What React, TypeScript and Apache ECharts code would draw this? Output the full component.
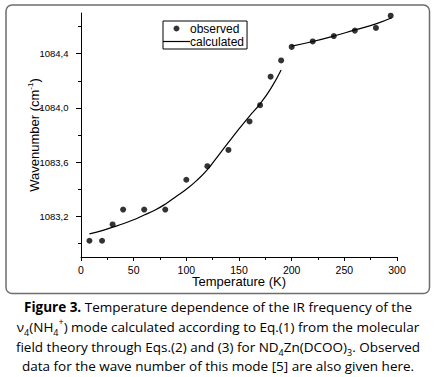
import { useEffect, useRef } from 'react';
import * as echarts from 'echarts';

const observedT = [8, 20, 30, 40, 60, 80, 100, 120, 140, 160, 170, 180, 190, 200, 220, 240, 260, 280, 294];
const observedV = [1083.02, 1083.02, 1083.14, 1083.25, 1083.25, 1083.25, 1083.47, 1083.57, 1083.69, 1083.9, 1084.02, 1084.23, 1084.35, 1084.45, 1084.49, 1084.53, 1084.57, 1084.59, 1084.68];

const calcLowT = [8, 20, 30, 40, 50, 60, 70, 80, 90, 100, 110, 120, 130, 140, 150, 160, 170, 180, 190];
const calcLowV = [1083.07, 1083.095, 1083.12, 1083.145, 1083.175, 1083.21, 1083.245, 1083.29, 1083.345, 1083.4, 1083.465, 1083.545, 1083.645, 1083.745, 1083.845, 1083.94, 1084.03, 1084.14, 1084.28];
const calcHighT = [200, 220, 240, 260, 280, 295];
const calcHighV = [1084.455, 1084.49, 1084.53, 1084.575, 1084.62, 1084.665];

const yMajorTicks = [1083.2, 1083.6, 1084.0, 1084.4];
const yMinorTicks = [1083.0, 1083.4, 1083.8, 1084.2, 1084.6];

const captionLines = [
  '{b|Figure 3.} Temperature dependence of the IR frequency of the',
  'ν{sub|4}(NH{sub|4}{sup|+}) mode calculated according to Eq.(1) from the molecular',
  'field theory through Eqs.(2) and (3) for ND{sub|4}Zn(DCOO){sub|3}. Observed',
  'data for the wave number of this mode [5] are also given here.',
];

const NARROW = '"Liberation Sans Narrow", "Arial Narrow", "Liberation Sans", Arial, sans-serif';
const CAPTION_FONT = '"Open Sans", "Noto Sans", sans-serif';

export default function App() {
  const ref = useRef<HTMLDivElement>(null);
  useEffect(() => {
    const chart = echarts.init(ref.current!, null, { renderer: 'svg' });
    const fmt = (v: number) => v.toFixed(1).replace('.', ',');
    const captionFontSize = 13.5;
    chart.setOption({
      animation: false,
      backgroundColor: '#fff',
      grid: { left: 81, right: 39, top: 13, bottom: 120, containLabel: false },
      legend: {
        left: 163,
        top: 21,
        orient: 'vertical',
        itemGap: 0,
        itemWidth: 27,
        itemHeight: 6,
        padding: [1, 3, 1, 0],
        borderColor: '#000',
        borderWidth: 1,
        borderRadius: 0,
        textStyle: { fontFamily: NARROW, fontSize: 12, color: '#000', padding: [0, 0, 0, -5], lineHeight: 13 },
        data: [
          { name: 'observed', icon: 'circle' },
          { name: 'calculated', icon: 'path://M0,0H27V1.2H0Z' },
        ],
      },
      xAxis: {
        type: 'value',
        min: 0,
        max: 300,
        interval: 50,
        name: 'Temperature (K)',
        nameLocation: 'middle',
        nameGap: 18,
        nameMoveOverlap: false,
        nameTextStyle: { fontFamily: NARROW, fontSize: 13, color: '#000' },
        axisLine: { show: true, onZero: false, lineStyle: { color: '#000', width: 1 } },
        axisTick: { show: true, inside: false, length: 4, lineStyle: { color: '#000' } },
        minorTick: { show: true, splitNumber: 2, length: 3, lineStyle: { color: '#000' } },
        axisLabel: { fontFamily: NARROW, fontSize: 10.5, color: '#000', margin: 7 },
        splitLine: { show: false },
        minorSplitLine: { show: false },
      },
      yAxis: [
        {
          type: 'value',
          min: 1082.9,
          max: 1084.7,
          position: 'left',
          name: '{a|Wavenumber (cm}{s|-1}{a|)}',
          nameLocation: 'middle',
          nameGap: 39,
          nameMoveOverlap: false,
          nameRotate: 90,
          nameTextStyle: {
            color: '#000',
            rich: {
              a: { fontFamily: NARROW, fontSize: 13, color: '#000', lineHeight: 16 },
              s: { fontFamily: NARROW, fontSize: 8, color: '#000', verticalAlign: 'top', lineHeight: 9 },
            },
          },
          axisLine: { show: true, onZero: false, lineStyle: { color: '#000', width: 1 } },
          axisTick: { show: true, inside: false, length: 5, customValues: yMajorTicks, lineStyle: { color: '#000' } },
          axisLabel: { fontFamily: NARROW, fontSize: 9.5, color: '#000', margin: 12.5, customValues: yMajorTicks, formatter: fmt },
          splitLine: { show: false },
        },
        {
          type: 'value',
          min: 1082.9,
          max: 1084.7,
          position: 'left',
          axisLine: { show: false },
          axisTick: { show: true, inside: false, length: 3, customValues: yMinorTicks, lineStyle: { color: '#000' } },
          axisLabel: { show: false },
          splitLine: { show: false },
        },
      ],
      series: [
        {
          name: 'observed',
          type: 'scatter',
          symbol: 'circle',
          symbolSize: 6,
          itemStyle: { color: '#000' },
          data: observedT.map((t, i) => [t, observedV[i]]),
          z: 3,
        },
        {
          name: 'calculated',
          type: 'line',
          symbol: 'none',
          smooth: true,
          lineStyle: { color: '#000', width: 1.2 },
          itemStyle: { color: '#000' },
          data: calcLowT.map((t, i) => [t, calcLowV[i]]),
          z: 2,
        },
        {
          name: 'calculated',
          type: 'line',
          symbol: 'none',
          smooth: true,
          lineStyle: { color: '#000', width: 1.2 },
          itemStyle: { color: '#000' },
          data: calcHighT.map((t, i) => [t, calcHighV[i]]),
          z: 2,
        },
      ],
      graphic: [
        {
          type: 'rect',
          shape: { x: 6, y: 5, width: 423.5, height: 288.5, r: 6 },
          style: { fill: 'none', stroke: '#6e6e6e', lineWidth: 1.5 },
          z: -1,
        },
        ...captionLines.map((line, i) => ({
          type: 'text',
          x: 218,
          y: 307 + i * 19.8,
          style: {
            text: line,
            align: 'center',
            verticalAlign: 'middle',
            fontFamily: CAPTION_FONT,
            fontSize: captionFontSize,
            fill: '#000',
            lineHeight: 20,
            rich: {
              b: { fontFamily: CAPTION_FONT, fontSize: captionFontSize, fontWeight: 'bold', fill: '#000', lineHeight: 20 },
              sub: { fontFamily: CAPTION_FONT, fontSize: 9, fill: '#000', verticalAlign: 'bottom', lineHeight: 11 },
              sup: { fontFamily: CAPTION_FONT, fontSize: 9, fill: '#000', verticalAlign: 'top', lineHeight: 13 },
            },
          },
        })),
      ],
    });
    return () => chart.dispose();
  }, []);
  return <div ref={ref} style={{ position: 'absolute', left: 0, top: 0, width: 436, height: 377 }} />;
}
